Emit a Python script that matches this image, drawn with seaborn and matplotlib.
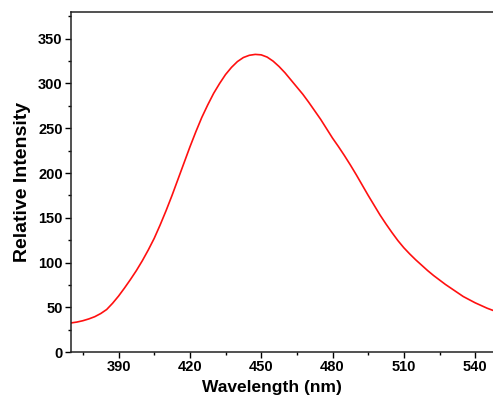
import numpy as np
import pandas as pd
import matplotlib
matplotlib.use("Agg")
import matplotlib.pyplot as plt
import seaborn as sns
from matplotlib.ticker import MultipleLocator

# values (every 2.5 nm)
wavelength = [370, 372.5, 375, 377.5, 380, 382.5, 385, 387.5, 390, 392.5,
              395, 397.5, 400, 402.5, 405, 407.5, 410, 412.5, 415, 417.5,
              420, 422.5, 425, 427.5, 430, 432.5, 435, 437.5, 440, 442.5,
              445, 447.5, 450, 452.5, 455, 457.5, 460, 462.5, 465, 467.5,
              470, 472.5, 475, 477.5, 480, 482.5, 485, 487.5, 490, 492.5,
              495, 497.5, 500, 502.5, 505, 507.5, 510, 512.5, 515, 517.5,
              520, 522.5, 525, 527.5, 530, 532.5, 535, 537.5, 540, 542.5,
              545, 547.5]
intensity = [32.5, 33.5, 35, 37, 39.5, 43, 47.5, 54.5, 62.5, 71.5,
             81, 91, 102, 114, 127, 142, 158, 175, 193, 211,
             229, 246, 262, 276, 289, 300, 310, 318, 324.5, 329,
             331.5, 332.5, 332, 329.5, 325, 319, 312, 304, 296, 288,
             279, 269.5, 260, 249.5, 239, 229.5, 219.5, 209, 198, 186.5,
             175, 164, 153, 143, 133.5, 124.5, 116.5, 109.5, 103, 97,
             91, 85.5, 80.5, 75.5, 71, 66.5, 62, 58.5, 55, 52,
             49, 46.5]

x_ticks = [390, 420, 450, 480, 510, 540]
y_ticks = [0, 50, 100, 150, 200, 250, 300, 350]

df = pd.DataFrame({"wavelength": wavelength, "intensity": intensity})

sns.set_style("ticks")
plt.rcParams['font.family'] = ['Liberation Sans', 'DejaVu Sans']
plt.rcParams['font.weight'] = 'bold'
plt.rcParams['text.color'] = 'black'
plt.rcParams['axes.labelcolor'] = 'black'
plt.rcParams['xtick.color'] = 'black'
plt.rcParams['ytick.color'] = 'black'

fig = plt.figure(figsize=(4.93, 3.96), dpi=100)
ax = fig.add_axes([0.144, 0.111, 0.856, 0.859])

sns.lineplot(data=df, x="wavelength", y="intensity", color="#ff1010", linewidth=1.2, ax=ax)

ax.set_xlim(370, 547.5)
ax.set_ylim(0, 380)
ax.set_xticks(x_ticks)
ax.set_yticks(y_ticks)
ax.xaxis.set_minor_locator(MultipleLocator(15))
ax.yaxis.set_minor_locator(MultipleLocator(25))

ax.tick_params(which='major', direction='out', length=4, width=1.0, labelsize=10.5, pad=2)
ax.tick_params(which='minor', direction='out', length=2.5, width=1.0)
for lab in ax.get_xticklabels() + ax.get_yticklabels():
    lab.set_fontweight('bold')

for s in ['left', 'bottom', 'top']:
    ax.spines[s].set_visible(True)
    ax.spines[s].set_linewidth(1.1)
    ax.spines[s].set_color('#222222')
ax.spines['right'].set_visible(False)

ax.set_xlabel("Wavelength (nm)", fontsize=12.5, fontweight='bold')
ax.xaxis.set_label_coords(0.477, -0.083)
ax.set_ylabel("Relative Intensity", fontsize=14, fontweight='bold', labelpad=5)

fig.savefig("out.png", dpi=100)
